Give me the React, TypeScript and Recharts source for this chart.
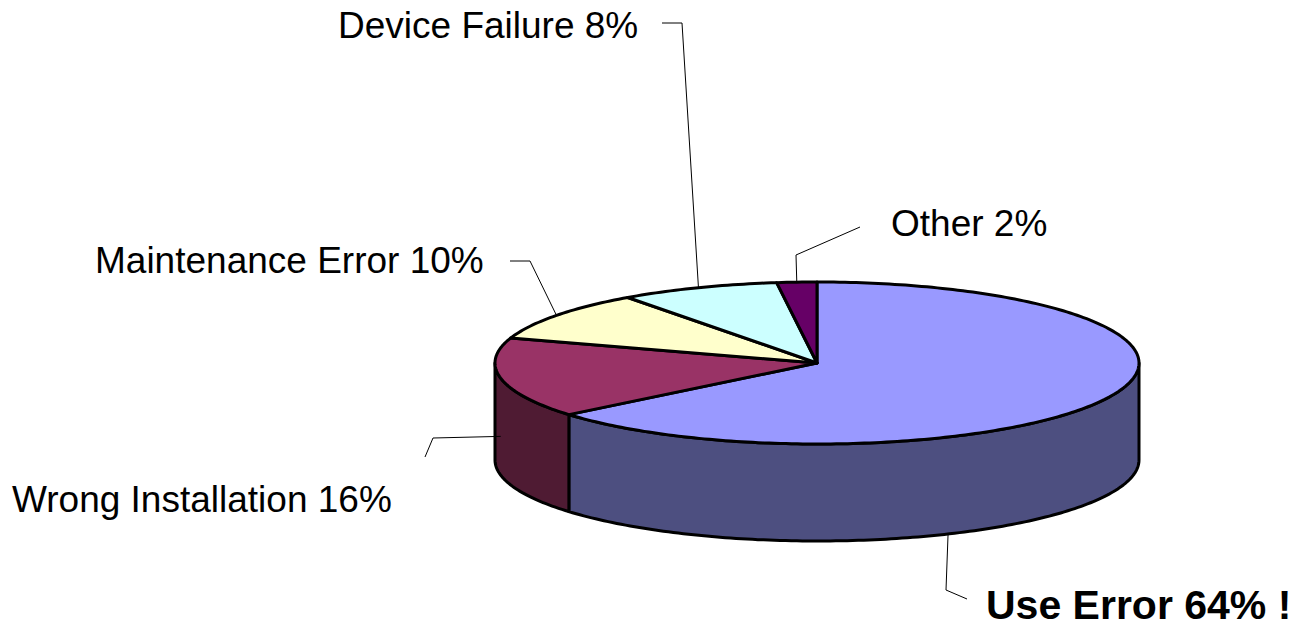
import React from "react";
import { PieChart, Pie, Cell } from "recharts";

// Values
const categories = ["Use Error", "Wrong Installation", "Maintenance Error", "Device Failure", "Other"];
const shares = [64, 16, 10, 8, 2];
const emphasized = "Use Error";

const topColors = ["#9999FF", "#993366", "#FFFFCC", "#CCFFFF", "#660066"];
const wallColors = ["#4D4F80", "#4F1B33", "#808066", "#668080", "#330033"];

// label placement: text start / baseline, where along the slice the leader attaches,
// how far down the wall (0 = top rim, 1 = bottom), and the two leader elbows
const labelLayout = [
  { x: 986, y: 619, size: 41, along: 0.677, depth: 1, bend: [946, 590], tail: [967, 599] },
  { x: 12, y: 512, size: 37, along: 0.5, depth: 0.6, bend: [433, 438], tail: [425, 457] },
  { x: 95, y: 273, size: 37, along: 0.5, depth: 0, bend: [530, 261], tail: [510, 261] },
  { x: 338, y: 38, size: 37, along: 0.5, depth: 0, bend: [682, 23], tail: [662, 23] },
  { x: 891, y: 236, size: 37, along: 0.5, depth: 0, bend: [796, 255], tail: [860, 227] },
];

const W = 1306;
const H = 629;
const CX = 817;
const CY = 363;
const R = 322;
const TILT = 81 / 322; // vertical squash of the top face
const DEPTH = 97;
const RAD = Math.PI / 180;

const pt = (cx: number, cy: number, r: number, a: number, dy = 0) => [
  cx + r * Math.cos(a * RAD),
  cy - r * TILT * Math.sin(a * RAD) + dy,
];

const arc = (cx: number, cy: number, r: number, a1: number, a2: number, dy = 0) => {
  const n = Math.max(2, Math.ceil(Math.abs(a2 - a1)));
  const out: number[][] = [];
  for (let i = 0; i <= n; i++) out.push(pt(cx, cy, r, a1 + ((a2 - a1) * i) / n, dy));
  return out;
};

const toPath = (pts: number[][]) =>
  pts.map((p, i) => `${i ? "L" : "M"}${p[0].toFixed(2)},${p[1].toFixed(2)}`).join(" ") + " Z";

function Slice3D(props: any) {
  const { cx, cy, outerRadius, startAngle, endAngle } = props;
  const name = props.name ?? props.payload?.name;
  const idx = categories.indexOf(name);
  const lo = Math.min(startAngle, endAngle);
  const hi = Math.max(startAngle, endAngle);
  // front half of the cylinder is where sin(angle) < 0
  const fLo = Math.max(lo, -180);
  const fHi = Math.min(hi, 0);
  let wall = null;
  if (fHi > fLo) {
    const top = arc(cx, cy, outerRadius, fHi, fLo);
    const bottom = arc(cx, cy, outerRadius, fLo, fHi, DEPTH);
    wall = (
      <path d={toPath([...top, ...bottom])} fill={wallColors[idx]} stroke="#000" strokeWidth={3} strokeLinejoin="round" />
    );
  }
  const face = [[cx, cy], ...arc(cx, cy, outerRadius, startAngle, endAngle)];
  return (
    <g>
      {wall}
      <path d={toPath(face)} fill={topColors[idx]} stroke="#000" strokeWidth={3} strokeLinejoin="round" />
    </g>
  );
}

function SliceLabel(props: any) {
  const { cx, cy, outerRadius, startAngle, endAngle, index, name, value } = props;
  const lay = labelLayout[index];
  const a = startAngle + (endAngle - startAngle) * lay.along;
  const start = pt(cx, cy, outerRadius, a, lay.depth * DEPTH);
  const bold = name === emphasized;
  const text = `${name} ${value}%${bold ? " !" : ""}`;
  return (
    <g>
      <polyline
        points={[start, lay.bend, lay.tail].map((p) => p.join(",")).join(" ")}
        fill="none"
        stroke="#000"
        strokeWidth={1}
      />
      <text
        x={lay.x}
        y={lay.y}
        fontFamily="'Liberation Sans', Arial, sans-serif"
        fontSize={lay.size}
        fontWeight={bold ? "bold" : "normal"}
        fill="#000"
        textAnchor="start"
      >
        {text}
      </text>
    </g>
  );
}

export default function App() {
  const data = categories.map((name, i) => ({ name, value: shares[i] }));
  return (
    <div style={{ position: "absolute", left: 0, top: 0, width: W, height: H, background: "#fff" }}>
      <PieChart width={W} height={H} margin={{ top: 0, right: 0, bottom: 0, left: 0 }}>
        <Pie
          data={data}
          dataKey="value"
          nameKey="name"
          cx={CX}
          cy={CY}
          outerRadius={R}
          startAngle={90}
          endAngle={-270}
          isAnimationActive={false}
          shape={Slice3D}
          activeShape={Slice3D}
          inactiveShape={Slice3D}
          label={SliceLabel}
          labelLine={false}
        >
          {data.map((d, i) => (
            <Cell key={d.name} fill={topColors[i]} />
          ))}
        </Pie>
      </PieChart>
    </div>
  );
}
